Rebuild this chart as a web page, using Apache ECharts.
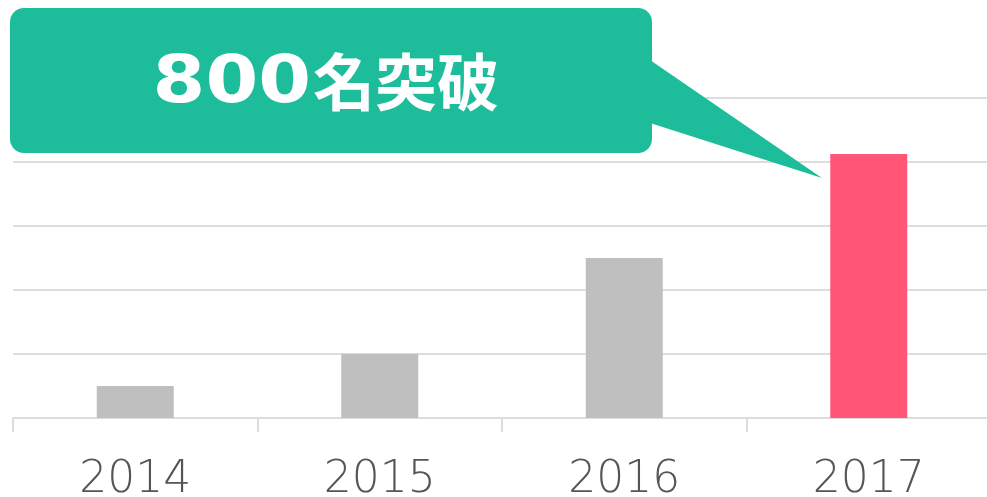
<!DOCTYPE html>
<html>
<head>
<meta charset="utf-8">
<script src="https://cdn.jsdelivr.net/npm/echarts@6/dist/echarts.min.js"></script>
<style>
  html, body { margin: 0; padding: 0; background: #fff; overflow: hidden; }
  #chart { width: 991px; height: 497px; }
</style>
</head>
<body>
<div id="chart"></div>
<script>
// 年度
const years = ['2014', '2015', '2016', '2017']
// 人数
const members = [100, 200, 500, 825]
// y轴刻度
const yMax = 1000
const yStep = 200
// 吹き出し
const calloutText = ['800', '名突破']

const chart = echarts.init(document.getElementById('chart'))

const cfg = {
  animation: false,
  grid: {
    left: 13,
    right: 0,
    top: 98,
    bottom: 79,
    outerBoundsMode: 'none',
  },
  xAxis: {
    type: 'category',
    data: years,
    axisLine: { lineStyle: { color: '#dddddd', width: 2 } },
    axisTick: { show: true, length: 14, lineStyle: { color: '#dddddd', width: 2 } },
    axisLabel: {
      color: '#555555',
      fontSize: 44,
      fontWeight: 200,
      fontFamily: '"DejaVu Sans", sans-serif',
      margin: 41,
    },
  },
  yAxis: {
    type: 'value',
    min: 0,
    max: yMax,
    interval: yStep,
    axisLine: { show: false },
    axisTick: { show: false },
    axisLabel: { show: false },
    splitLine: { lineStyle: { color: '#dddddd', width: 2 } },
  },
  series: [
    {
      type: 'bar',
      barWidth: 77,
      data: members.map((v, i) => ({
        value: v,
        itemStyle: {
          color: i === members.length - 1 ? '#ff5577' : '#bfbfbf',
        },
      })),
    },
  ],
  graphic: [
    {
      type: 'polygon',
      shape: { points: [[650, 60], [822, 178], [650, 123]] },
      style: { fill: '#1dbd9b' },
      z: 10,
    },
    {
      type: 'rect',
      shape: { x: 10, y: 8, width: 642, height: 145, r: 14 },
      style: { fill: '#1dbd9b' },
      z: 10,
    },
    {
      type: 'text',
      x: 311,
      y: 85,
      scaleX: 1.15,
      originX: 0,
      style: {
        text: calloutText[0],
        fill: '#ffffff',
        font: 'bold 66px "DejaVu Sans", sans-serif',
        textAlign: 'right',
        textVerticalAlign: 'middle',
      },
      z: 11,
    },
    {
      type: 'text',
      x: 313,
      y: 82,
      style: {
        text: calloutText[1],
        fill: '#ffffff',
        font: 'bold 62px "Noto Sans CJK JP", sans-serif',
        textAlign: 'left',
        textVerticalAlign: 'middle',
      },
      z: 11,
    },
  ],
}

chart.setOption(cfg)
</script>
</body>
</html>
